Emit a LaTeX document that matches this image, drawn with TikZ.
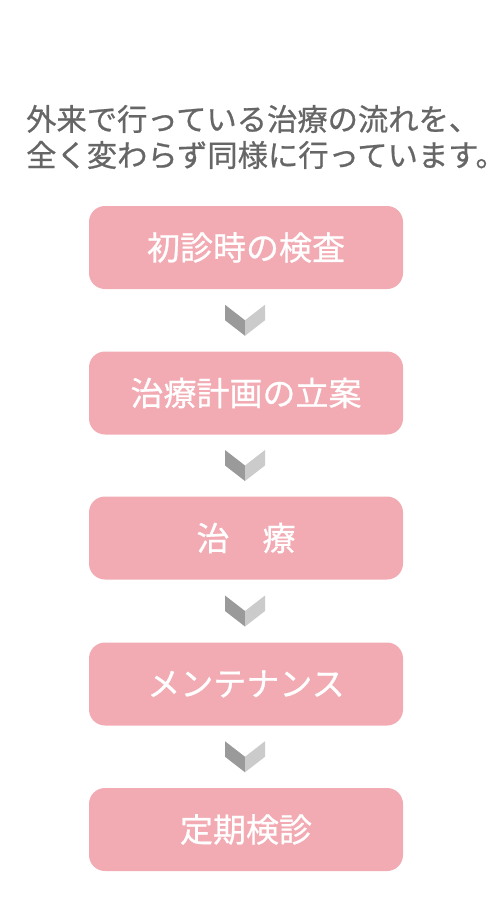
\documentclass[tikz,border=0pt]{standalone}
\usepackage{fontspec}
\usetikzlibrary{calc}
\newfontfamily\jp[FakeBold=0.7]{Noto Sans CJK JP}
\definecolor{boxpink}{HTML}{F2ABB3}
\definecolor{titlegray}{HTML}{666666}
\definecolor{chevdark}{HTML}{9A9A9A}
\definecolor{chevlight}{HTML}{CBCBCB}
\tikzset{
  stepbox/.style={fill=boxpink, rounded corners=16pt, minimum width=314pt, minimum height=83pt,
    text=white, inner sep=0pt, font=\jp\fontsize{33}{33}\selectfont},
  chevron/.pic={
    \fill[chevdark] (-20,-15.5) -- (0,0) -- (0,15.5) -- (-20,0) -- cycle;
    \fill[chevlight] (0,0) -- (20,-15.5) -- (20,0) -- (0,15.5) -- cycle;
  }
}
\begin{document}
\begin{tikzpicture}[x=1pt,y=-1pt]
\useasboundingbox (0,0) rectangle (500,900);
\node[anchor=west, align=left, text=titlegray, inner sep=0pt,
  font=\jp\fontsize{30.3}{36}\selectfont] (title) at (26,137)
  {外来で行っている治療の流れを、\\全く変わらず同様に行っています。};
\node[stepbox] (b1) at (246,247.5) {初診時の検査};
\node[stepbox] (b2) at (246,393) {治療計画の立案};
\node[stepbox] (b3) at (246,538) {治　療};
\node[stepbox] (b4) at (246,684) {メンテナンス};
\node[stepbox] (b5) at (246,829.5) {定期検診};
\foreach \a/\b in {b1/b2,b2/b3,b3/b4,b4/b5}{
  \path ($(\a.south)!0.5!(\b.north)$) ++(-1,0) pic {chevron};
}
\end{tikzpicture}
\end{document}
